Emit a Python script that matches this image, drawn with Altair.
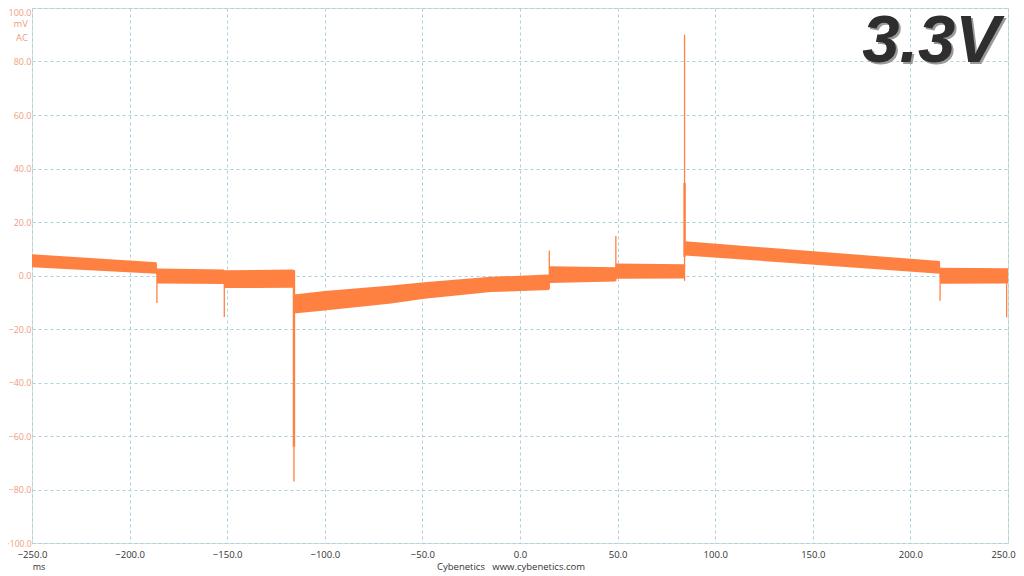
import altair as alt
import pandas as pd

# ---- data (ms, mV) ----
band_x  = [-250, -186.1, -185.9, -151.6, -151.4, -116.1, -115.9, -100, -66, -49, -15, 14.9, 15.1, 49.0, 49.2, 84.2, 84.4, 215.1, 215.3, 250]
band_hi = [7.9, 5.0, 2.6, 2.2, 2.0, 2.2, -7.1, -5.8, -3.7, -2.5, -0.5, 0.4, 3.5, 3.1, 4.5, 4.2, 12.8, 5.4, 2.9, 2.7]
band_lo = [3.1, 0.7, -3.0, -3.2, -4.7, -4.6, -14.2, -13.1, -10.5, -8.7, -6.2, -5.4, -2.8, -2.2, -1.2, -1.1, 7.5, 0.7, -3.1, -3.0]

spike_x  = [-186, -151.5, -115.8, 15, 49.1, 84.3, 215.2, 249.3]
spike_lo = [0.9, -2.8, -77.0, -5.0, -2.0, -2.0, 1.0, -2.9]
spike_hi = [-10.3, -15.5, 2.0, 9.3, 14.8, 90.0, -9.4, -15.6]

core_x  = [-115.8, 84.3]
core_lo = [-64.0, 7.0]
core_hi = [2.0, 34.6]

x_ticks = [-250, -200, -150, -100, -50, 0, 50, 100, 150, 200, 250]
y_ticks = [-100, -80, -60, -40, -20, 0, 20, 40, 60, 80, 100]

ORANGE = "#FF8142"
SALMON = "#EE9E7C"
GRID = "#A8D3DC"
FONT = "Open Sans"

band = pd.DataFrame({"t": band_x, "hi": band_hi, "lo": band_lo})
spikes = pd.DataFrame({"t": spike_x, "lo": spike_lo, "hi": spike_hi})
cores = pd.DataFrame({"t": core_x, "lo": core_lo, "hi": core_hi})

xscale = alt.Scale(domain=[-250, 250], nice=False, zero=False)
yscale = alt.Scale(domain=[-100, 100], nice=False, zero=False)

xaxis = alt.Axis(values=x_ticks, format=".1f", title=None, domain=False, ticks=False,
                 grid=True, gridColor=GRID, gridDash=[3, 3], gridWidth=1,
                 labelColor="#333333", labelFont=FONT, labelFontSize=9.5, labelPadding=6,
                 labelFlush=False, labelOverlap=False,
                 labelOffset={"condition": {"test": "datum.value == 250", "value": -5}, "value": 0})
yaxis = alt.Axis(values=y_ticks, format=".1f", title=None, domain=False, ticks=False,
                 grid=True, gridColor=GRID, gridDash=[3, 3], gridWidth=1,
                 labelColor=SALMON, labelFont=FONT, labelPadding=1,
                 labelFontSize={"condition": {"test": "datum.value == -100", "value": 8.5}, "value": 9},
                 labelFlush=False, labelOverlap=False,
                 labelBaseline={"condition": {"test": "datum.value == 100", "value": "top"}, "value": "middle"})

base_area = alt.Chart(band).mark_area(color=ORANGE, opacity=1, interpolate="linear").encode(
    x=alt.X("t:Q", scale=xscale, axis=xaxis),
    y=alt.Y("hi:Q", scale=yscale, axis=yaxis),
    y2="lo:Q",
)

spike_rules = alt.Chart(spikes).mark_rule(color=ORANGE, strokeWidth=1.3).encode(
    x="t:Q", y="lo:Q", y2="hi:Q"
)
core_rules = alt.Chart(cores).mark_rule(color=ORANGE, strokeWidth=2.4).encode(
    x="t:Q", y="lo:Q", y2="hi:Q"
)

lbl = pd.DataFrame({"a": [0]})
def txt(text, x, y, size, color, align="center", baseline="middle"):
    return alt.Chart(lbl).mark_text(text=text, fontSize=size, color=color, align=align,
                                    baseline=baseline, font=FONT).encode(
        x=alt.value(x), y=alt.value(y))

mv = txt("mV", -4, 15.5, 9.5, SALMON, align="right")
ac = txt("AC", -4, 30, 9.5, SALMON, align="right")
ms = txt("ms", 7, 559, 9, "#333333")
footer = txt("Cybenetics\u00a0\u00a0\u00a0www.cybenetics.com", 479, 559, 9.5, "#333333")

title_shadow = alt.Chart(lbl).mark_text(text="3.3V", fontSize=67, fontStyle="italic", fontWeight="bold",
                                        font="Liberation Sans", color="#9a9a9a", align="right",
                                        baseline="alphabetic").encode(x=alt.value(970), y=alt.value(56))
title_main = alt.Chart(lbl).mark_text(text="3.3V", fontSize=67, fontStyle="italic", fontWeight="bold",
                                      font="Liberation Sans", color="#2e2e2e", align="right",
                                      baseline="alphabetic").encode(x=alt.value(968), y=alt.value(54))

chart = alt.layer(base_area, spike_rules, core_rules, mv, ac, ms, footer, title_shadow, title_main).properties(
    width=976, height=535,
    autosize=alt.AutoSizeParams(type="none"),
    padding={"left": 24, "top": 0, "right": 8, "bottom": 30},
).configure_view(stroke=None).configure(background="white")

chart.save("out.html", embed_options={"renderer": "svg", "actions": False})
